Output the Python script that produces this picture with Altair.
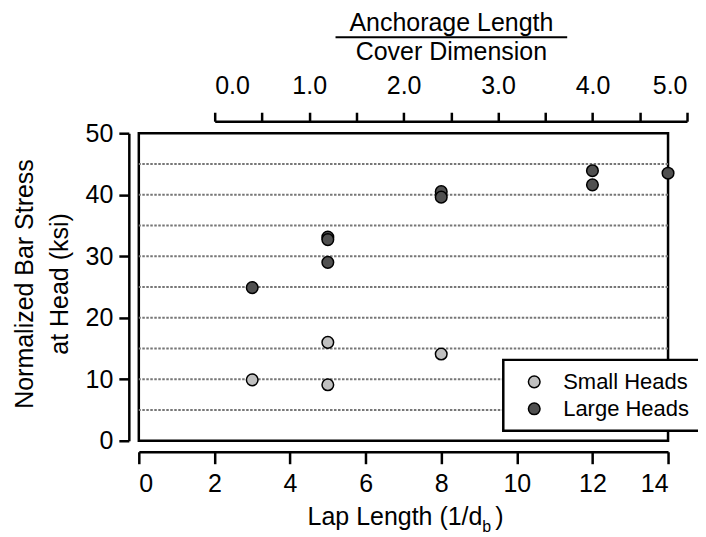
import altair as alt
import pandas as pd

# ---- data ----
lap_small = [3, 5, 5, 8]
stress_small = [9.9, 16.0, 9.1, 14.1]
lap_large = [3, 5, 5, 5, 8, 8, 12, 12, 14]
stress_large = [24.9, 33.1, 32.7, 29.0, 40.5, 39.6, 43.9, 41.6, 43.5]
series_names = ["Small Heads", "Large Heads"]
series_colors = ["#c0c0c0", "#505050"]

x_ticks = [0, 2, 4, 6, 8, 10, 12, 14]
y_ticks = [0, 5, 10, 15, 20, 25, 30, 35, 40, 45, 50]
grid_levels = [5, 10, 15, 20, 25, 30, 35, 40, 45]
top_ticks = [0, 0.5, 1, 1.5, 2, 2.5, 3, 3.5, 4, 4.5, 5]

FONT = "Liberation Sans"

df = pd.DataFrame({
    "lap": lap_small + lap_large,
    "stress": stress_small + stress_large,
    "head": [series_names[0]] * len(lap_small) + [series_names[1]] * len(lap_large),
})

grid = alt.Chart(pd.DataFrame({"g": grid_levels})).mark_rule(
    color="#777777", strokeWidth=2, strokeDash=[2.5, 1.5]
).encode(y=alt.Y("g:Q", scale=alt.Scale(domain=[0, 50], nice=False)))

points = alt.Chart(df).mark_circle(
    size=135, stroke="black", strokeWidth=1.5, opacity=1
).encode(
    x=alt.X("lap:Q", scale=alt.Scale(domain=[0, 14], nice=False, zero=False),
            axis=alt.Axis(values=x_ticks, title=None, orient="bottom", offset=11,
                          tickSize=12, labelPadding=8, grid=False)),
    y=alt.Y("stress:Q", scale=alt.Scale(domain=[0, 50], nice=False),
            axis=alt.Axis(values=y_ticks, title=None, offset=10, tickSize=10,
                          labelPadding=6, grid=False,
                          labelExpr="datum.value % 10 == 0 ? datum.label : ''")),
    color=alt.Color("head:N",
                    scale=alt.Scale(domain=series_names, range=series_colors),
                    legend=alt.Legend(title=None, orient="none", legendX=365, legendY=227,
                                      labelFontSize=22, labelFont=FONT, labelColor="black",
                                      labelOffset=18, padding=11, symbolOffset=9,
                                      rowPadding=5, strokeColor="black", fillColor="white",
                                      symbolType="circle", symbolSize=135,
                                      symbolStrokeColor="black", symbolStrokeWidth=1.5,
                                      symbolOpacity=1)),
)

top_axis = alt.Chart(pd.DataFrame({"r": top_ticks})).mark_point(opacity=0).encode(
    x=alt.X("r:Q", scale=alt.Scale(domain=[0, 5], range=[76, 549], nice=False, zero=False),
            axis=alt.Axis(values=top_ticks, title=None, orient="top", offset=12,
                          tickSize=9, labelPadding=14, grid=False,
                          labelExpr="datum.value % 1 == 0 ? format(datum.value, '.1f') : ''"))
)

def txt(s, x, y, size=25, angle=0, align="center"):
    return alt.Chart(pd.DataFrame({"t": [s]})).mark_text(
        font=FONT, fontSize=size, color="black", align=align,
        baseline="alphabetic", angle=angle
    ).encode(text="t:N", x=alt.value(x), y=alt.value(y))

top_t1 = txt("Anchorage Length", 313, -102)
top_t2 = txt("Cover Dimension", 313, -73)
frac_bar = alt.Chart(pd.DataFrame({"a": [0]})).mark_rule(color="black", strokeWidth=2).encode(
    x=alt.value(197), x2=alt.value(429), y=alt.value(-96))

xt1 = txt("Lap Length (1/d", 169, 392, align="left")
xt2 = txt("b", 344, 399, size=16, align="left")
xt3 = txt(")", 357, 392, align="left")

yt1 = txt("Normalized Bar Stress", -106, 151, angle=270)
yt2 = txt("at Head (ksi)", -71, 151, angle=270)

chart = alt.layer(
    grid, points, top_axis, top_t1, top_t2, frac_bar, xt1, xt2, xt3, yt1, yt2
).resolve_scale(x="independent").properties(
    width=530, height=308,
    autosize=alt.AutoSizeParams(type="none"),
    padding={"left": 131, "top": 125, "right": 30, "bottom": 96},
).configure_view(
    stroke="black", strokeWidth=2.5
).configure_axis(
    domainColor="black", domainWidth=2.5, tickColor="black", tickWidth=2.5,
    labelFont=FONT, labelFontSize=25, labelColor="black"
).configure_legend(
    strokeWidth=2.5
)

chart.save("out.html", embed_options={"renderer": "svg", "actions": False})
